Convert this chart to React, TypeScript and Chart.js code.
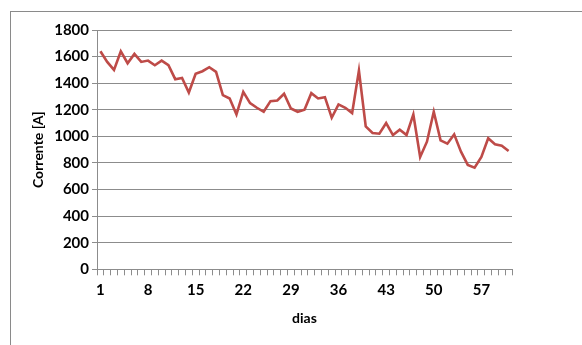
import React, { useEffect, useRef } from "react";
import { Chart, registerables } from "chart.js";

Chart.register(...registerables);

const days: string[] = Array.from({ length: 61 }, (_, i) => String(i + 1));
const shownDayLabels: string[] = ["1", "8", "15", "22", "29", "36", "43", "50", "57"];
const corrente: number[] = [
  1640, 1560, 1500, 1640, 1550, 1620, 1560, 1570, 1535, 1570,
  1535, 1430, 1440, 1330, 1470, 1490, 1520, 1485, 1310, 1285,
  1165, 1335, 1250, 1215, 1185, 1265, 1270, 1320, 1210, 1185,
  1200, 1325, 1285, 1295, 1140, 1240, 1215, 1175, 1495, 1075,
  1025, 1020, 1100, 1010, 1050, 1010, 1165, 845, 960, 1185,
  970, 945, 1015, 885, 785, 765, 845, 985, 940, 930,
  890,
];
const yTicks: number[] = [0, 200, 400, 600, 800, 1000, 1200, 1400, 1600, 1800];

const FONT = "Lato, 'Open Sans', sans-serif";
const GRID = "#8c8c8c";

export default function App() {
  const ref = useRef<HTMLCanvasElement | null>(null);

  useEffect(() => {
    if (!ref.current) return;
    const chart = new Chart(ref.current, {
      type: "line",
      data: {
        labels: days,
        datasets: [
          {
            data: corrente,
            borderColor: "#BE4B48",
            borderWidth: 2.6,
            pointRadius: 0,
            tension: 0,
            fill: false,
          },
        ],
      },
      options: {
        animation: false,
        responsive: false,
        maintainAspectRatio: false,
        devicePixelRatio: 1,
        layout: { padding: { left: 30, top: 30, right: 70, bottom: 18 } },
        plugins: { legend: { display: false }, tooltip: { enabled: false } },
        scales: {
          x: {
            type: "category",
            offset: true,
            afterFit: (s: any) => {
              s.height = 57.7;
            },
            grid: {
              offset: true,
              drawOnChartArea: false,
              drawTicks: true,
              tickLength: 6,
              color: GRID,
            },
            border: { display: true, color: GRID },
            ticks: {
              autoSkip: false,
              maxRotation: 0,
              minRotation: 0,
              padding: 6,
              color: "#000",
              font: { family: FONT, size: 15, weight: "bold" },
              callback: (_v: any, i: number) =>
                shownDayLabels.includes(days[i]) ? days[i] : "",
            },
            title: {
              display: true,
              text: "dias",
              color: "#000",
              padding: 0,
              font: { family: FONT, size: 14, weight: "bold" },
            },
          },
          y: {
            min: 0,
            max: 1800,
            afterFit: (s: any) => {
              s.width = 67;
            },
            afterBuildTicks: (s: any) => {
              s.ticks = yTicks.map((v) => ({ value: v }));
            },
            grid: {
              color: GRID,
              lineWidth: 1,
              drawTicks: true,
              tickLength: 5,
            },
            border: { display: true, color: GRID },
            ticks: {
              padding: 3,
              color: "#000",
              font: { family: FONT, size: 15, weight: "bold" },
              callback: (v: any) => String(v),
            },
            title: {
              display: true,
              text: "Corrente [A]",
              color: "#000",
              padding: 0,
              font: { family: FONT, size: 14, weight: "bold" },
            },
          },
        },
      },
    });
    return () => chart.destroy();
  }, []);

  return (
    <div
      style={{
        position: "fixed",
        left: 0,
        top: 0,
        width: 582,
        height: 345,
        overflow: "hidden",
        background: "#fff",
      }}
    >
      <div
        style={{
          position: "absolute",
          left: 10,
          top: 11,
          width: 620,
          height: 400,
          border: "1px solid #8a8a8a",
        }}
      />
      <canvas
        ref={ref}
        width={582}
        height={345}
        style={{ position: "absolute", left: 0, top: 0, width: 582, height: 345 }}
      />
    </div>
  );
}
